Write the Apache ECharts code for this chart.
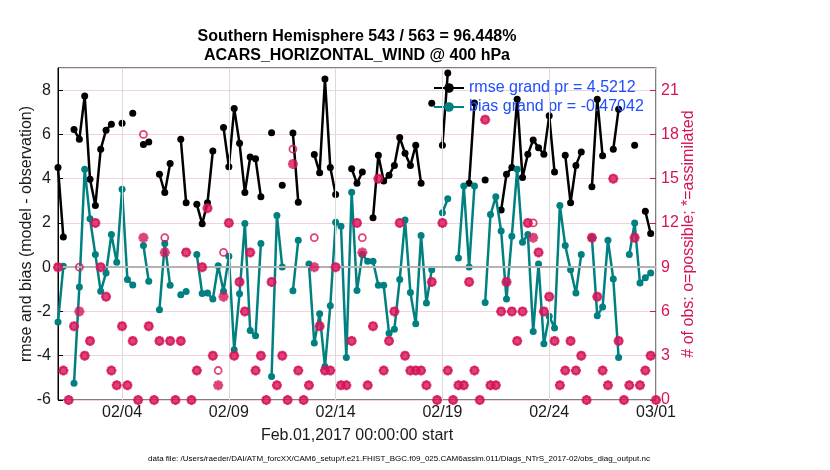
<!DOCTYPE html>
<html><head><meta charset="utf-8">
<script src="https://cdn.jsdelivr.net/npm/echarts@6/dist/echarts.min.js"></script>
<style>html,body{margin:0;padding:0;background:#fff}#c{width:830px;height:470px}</style>
</head><body><div id="c"></div>
<script>
// ---- data (6-hourly steps from Feb.01 00Z to Mar.01 00Z) ----
const tickLabels = ['02/04','02/09','02/14','02/19','02/24','03/01'];
const tickSteps = [12,32,52,72,92,112];
const rmseName = 'rmse grand pr = 4.5212';
const biasName = 'bias grand pr = -0.47042';
const titleLine1 = 'Southern Hemisphere 543 / 563 = 96.448%';
const titleLine2 = 'ACARS_HORIZONTAL_WIND @ 400 hPa';
const rmseValues = [4.5,1.37,null,6.22,5.78,7.74,3.97,2.79,5.33,6.19,
 6.46,null,6.5,null,6.96,null,5.54,5.66,null,4.2,
 3.37,4.68,null,5.78,2.91,null,2.84,1.96,2.91,5.25,
 null,6.31,4.54,7.17,5.6,3.37,4.98,4.9,3.18,null,
 6.08,null,3.7,null,6.06,2.94,null,null,5.09,4.27,
 8.5,4.5,3.29,null,null,4.45,3.79,4.3,null,2.23,
 5.06,3.89,4.16,4.6,5.86,5.15,4.6,5.51,3.79,null,
 7.41,null,5.51,8.77,null,null,null,3.79,7.42,null,
 3.94,null,null,2.58,4.2,4.5,7.59,4.05,5.1,5.75,
 5.4,5.1,6.84,4.3,null,5.06,2.91,4.6,5.21,null,
 3.64,7.59,5.03,null,5.33,7.14,null,null,5.51,null,
 2.53,1.52,null];
const biasValues = [-2.48,0.04,null,-5.24,-0.89,4.42,2.19,0.57,-1.09,-0.26,
 1.48,0.22,3.52,-0.56,-0.8,null,0.98,-0.64,null,-1.92,
 1.07,-0.82,null,-1.24,-1.1,null,0.57,-1.19,-1.17,-1.44,
 0.07,-1.09,0.49,-3.73,-1.2,1.98,-2.86,-3.1,1.07,null,
 -4.94,2.34,0.01,null,-1.06,1.22,null,0.14,-3.43,-2.1,
 -4.49,-1.74,2.03,1.85,-4.08,3.39,-1.05,0.57,0.27,0.27,
 -0.82,-0.82,-2.98,-2.8,-0.56,2.13,-1.14,-2.56,1.43,-1.62,
 -0.11,null,2.46,3.09,null,0.42,3.67,0.01,3.67,null,
 -1.6,2.38,3.18,1.63,-1.44,1.4,4.42,1.13,1.48,-2.9,
 0.15,-3.46,-2.22,-2.75,2.79,0.98,-0.11,-1.17,0.57,null,
 1.32,-2.19,-1.8,1.22,-0.53,-4.08,null,0.57,2.0,-0.71,
 -0.48,-0.26,null];
const possibleCounts = [9,2,0,5,9,3,4,12,9,7, 2,1,5,1,4,0,18,5,0,4,
 11,4,0,4,10,0,2,9,13,3, 2,10,12,3,8,6,10,2,3,0,
 8,1,3,0,17,2,0,1,11,5, 2,2,9,1,1,4,12,11,1,5,
 15,2,4,6,12,3,2,2,2,1, 8,0,12,2,0,1,1,8,2,0,
 19,1,1,6,8,6,4,6,12,12, 10,6,7,4,1,2,4,2,3,0,
 11,7,2,1,15,4,0,1,11,1, 2,3,0];
const assimilatedCounts = [9,2,0,5,6,3,4,12,9,7, 2,1,5,1,4,0,11,5,0,4,
 10,4,0,4,10,0,2,9,13,3, 1,7,12,3,8,6,10,2,3,0,
 8,1,3,0,16,2,0,1,9,5, 2,2,9,1,1,4,12,10,1,5,
 15,2,4,6,12,3,2,2,2,1, 8,0,12,2,0,1,1,8,2,0,
 19,1,1,6,8,6,4,6,12,11, 10,6,7,4,1,2,4,2,3,0,
 11,7,2,1,15,4,0,1,11,1, 2,3,0];

// ---- styling ----
const FONT = '"Liberation Sans", Arial, Helvetica, sans-serif';
const CRIMSON = '#d4145a';
const TEAL = '#008080';
const INK = '#1a1a1a';
const STAR = 'path://M7 0H13V20H7Z M0 7H20V13H0Z M0.78 5.02L5.02 0.78L19.22 14.98L14.98 19.22Z M14.98 0.78L19.22 5.02L5.02 19.22L0.78 14.98Z';
const pairs = arr => arr.map((v, i) => [i, v]);
const labelMap = {};
tickSteps.forEach((s, k) => { labelMap[s] = tickLabels[k]; });

const chart = echarts.init(document.getElementById('c'), null, {renderer: 'canvas'});
chart.setOption({
  animation: false,
  backgroundColor: '#fff',
  grid: {left: 58, top: 68, width: 598, height: 332, containLabel: false,
         show: true, borderColor: '#000', borderWidth: 1, backgroundColor: 'transparent'},
  xAxis: {
    type: 'value', min: 0, max: 112,
    axisLine: {show: true, lineStyle: {color: '#000', width: 1}},
    axisTick: {show: true, inside: true, length: 5, customValues: tickSteps, lineStyle: {color: '#000'}},
    axisLabel: {customValues: tickSteps, formatter: v => labelMap[v] || '', color: INK,
                fontSize: 16, fontFamily: FONT, margin: 5},
    splitLine: {show: false}
  },
  yAxis: [{
    type: 'value', min: -6, max: 9, interval: 2, position: 'left',
    axisLine: {show: true, lineStyle: {color: '#000', width: 1}},
    axisTick: {show: true, inside: true, length: 5, lineStyle: {color: '#000'}},
    axisLabel: {color: INK, fontSize: 16, fontFamily: FONT, margin: 7, showMaxLabel: false},
    splitLine: {show: true, lineStyle: {color: '#f0d3de', width: 1}}
  }, {
    type: 'value', min: 0, max: 22.5, interval: 3, position: 'right',
    axisLine: {show: true, lineStyle: {color: CRIMSON, width: 1}},
    axisTick: {show: true, inside: true, length: 6, lineStyle: {color: CRIMSON}},
    axisLabel: {color: CRIMSON, fontSize: 16, fontFamily: FONT, margin: 5, showMaxLabel: false},
    splitLine: {show: false}
  }],
  legend: {
    data: [rmseName, biasName], orient: 'vertical', left: 433, top: 80,
    itemWidth: 30, itemHeight: 12, itemGap: 3, padding: 0,
    textStyle: {color: '#1f4fff', fontSize: 16, fontFamily: FONT}
  },
  series: [
    {
      type: 'line', name: '_grid', data: [], z: 1, silent: true,
      markLine: {
        silent: true, symbol: 'none', label: {show: false}, animation: false,
        data: tickSteps.map(s => ({xAxis: s, lineStyle: {color: '#dadada', width: 1, type: 'solid'}}))
          .concat([{yAxis: 0, lineStyle: {color: '#b3b3b3', width: 2, type: 'solid'}}])
      }
    },
    {
      type: 'line', name: rmseName, yAxisIndex: 0, data: pairs(rmseValues), z: 3,
      connectNulls: false, symbol: 'circle', symbolSize: 7, showSymbol: true,
      lineStyle: {color: '#000', width: 2.5}, itemStyle: {color: '#000'}
    },
    {
      type: 'line', name: biasName, yAxisIndex: 0, data: pairs(biasValues), z: 4,
      connectNulls: false, symbol: 'circle', symbolSize: 7, showSymbol: true,
      lineStyle: {color: TEAL, width: 2.5}, itemStyle: {color: TEAL}
    },
    {
      type: 'scatter', name: 'possible', yAxisIndex: 1, data: pairs(possibleCounts), z: 5,
      symbol: 'circle', symbolSize: 7,
      itemStyle: {color: 'rgba(0,0,0,0)', borderColor: CRIMSON, borderWidth: 1.8}
    },
    {
      type: 'scatter', name: 'assimilated', yAxisIndex: 1, data: pairs(assimilatedCounts), z: 6,
      symbol: STAR, symbolSize: 10, itemStyle: {color: CRIMSON}
    }
  ],
  graphic: [
    {type: 'text', x: 357, y: 37, style: {text: titleLine1, fill: '#000', font: 'bold 16px ' + FONT,
      align: 'center', verticalAlign: 'middle', textAlign: 'center', textVerticalAlign: 'middle'}},
    {type: 'text', x: 357, y: 56, style: {text: titleLine2, fill: '#000', font: 'bold 16px ' + FONT,
      align: 'center', verticalAlign: 'middle', textAlign: 'center', textVerticalAlign: 'middle'}},
    {type: 'text', x: 27, y: 234, rotation: Math.PI / 2, style: {text: 'rmse and bias (model - observation)',
      fill: INK, font: '16px ' + FONT, align: 'center', verticalAlign: 'middle', textAlign: 'center', textVerticalAlign: 'middle'}},
    {type: 'text', x: 689, y: 234, rotation: Math.PI / 2, style: {text: '# of obs: o=possible; *=assimilated',
      fill: CRIMSON, font: '16px ' + FONT, align: 'center', verticalAlign: 'middle', textAlign: 'center', textVerticalAlign: 'middle'}},
    {type: 'text', x: 357, y: 436, style: {text: 'Feb.01,2017 00:00:00 start',
      fill: INK, font: '16px ' + FONT, align: 'center', verticalAlign: 'middle', textAlign: 'center', textVerticalAlign: 'middle'}},
    {type: 'text', x: 399, y: 459, style: {text: 'data file: /Users/raeder/DAI/ATM_forcXX/CAM6_setup/f.e21.FHIST_BGC.f09_025.CAM6assim.011/Diags_NTrS_2017-02/obs_diag_output.nc',
      fill: '#000', font: '8px ' + FONT, align: 'center', verticalAlign: 'middle', textAlign: 'center', textVerticalAlign: 'middle'}}
  ]
});
</script></body></html>
